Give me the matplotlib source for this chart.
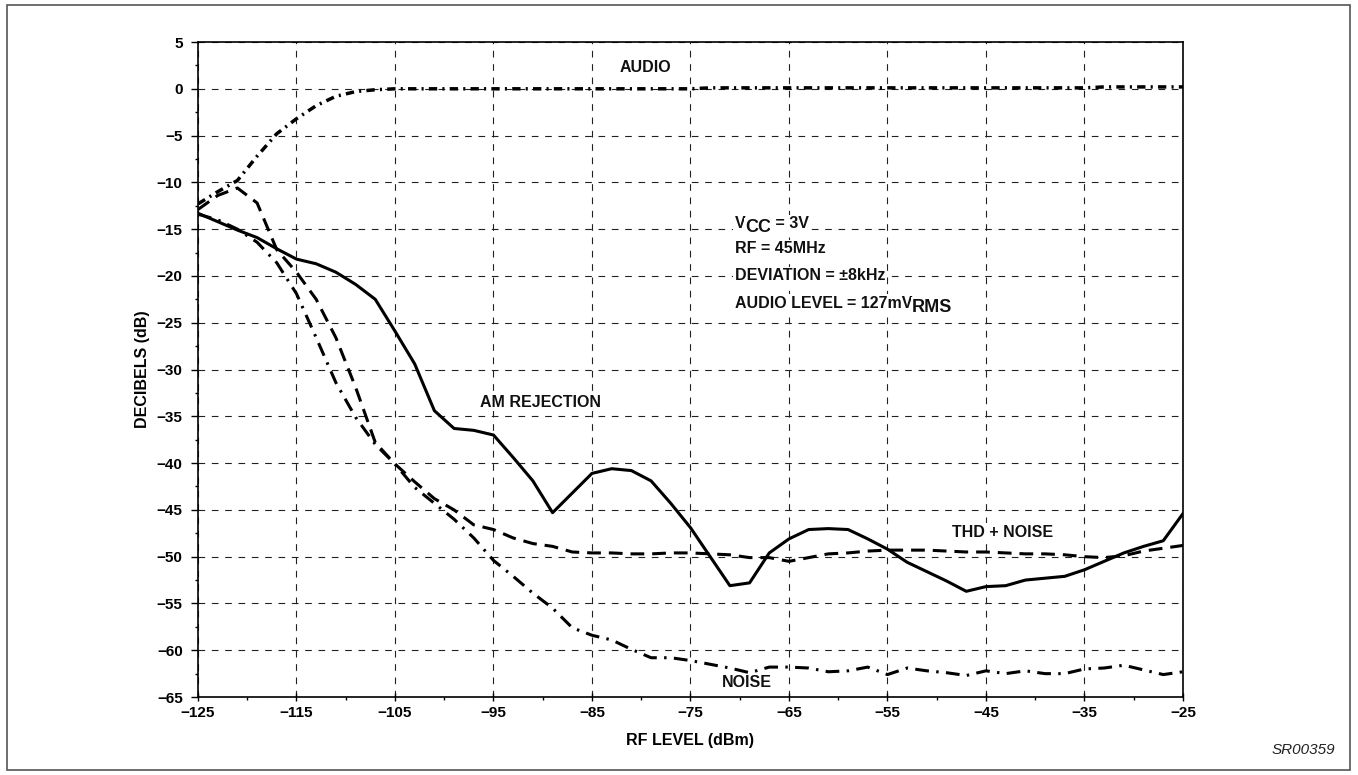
import matplotlib.pyplot as plt
from matplotlib.patches import Rectangle
from matplotlib.ticker import FixedLocator, MultipleLocator

plt.rcParams['font.family'] = ['Liberation Sans', 'DejaVu Sans']

# RF level, every 2 dBm
rf = list(range(-125, -24, 2))

audio = [-12.3, -11.0, -9.8, -7.2, -4.8, -3.2, -1.8, -0.8, -0.3, -0.1,
         0.0, 0.0, 0.0, 0.0, 0.0, 0.0, 0.0, 0.0, 0.0, 0.0,
         0.0, 0.0, 0.0, 0.0, 0.0, 0.0, 0.1, 0.1, 0.1, 0.1,
         0.1, 0.1, 0.1, 0.1, 0.1, 0.1, 0.1, 0.1, 0.1, 0.1,
         0.1, 0.1, 0.1, 0.1, 0.1, 0.1, 0.2, 0.2, 0.2, 0.2, 0.2]

am_rejection = [-13.3, -14.2, -15.1, -15.9, -17.1, -18.2, -18.7, -19.6, -20.9, -22.5,
                -25.9, -29.4, -34.4, -36.3, -36.5, -37.0, -39.4, -41.9, -45.3, -43.2,
                -41.1, -40.6, -40.8, -41.9, -44.3, -46.9, -50.0, -53.1, -52.8, -49.6,
                -48.1, -47.1, -47.0, -47.1, -48.1, -49.2, -50.6, -51.6, -52.6, -53.7,
                -53.2, -53.1, -52.5, -52.3, -52.1, -51.4, -50.5, -49.6, -48.9, -48.3, -45.4]

thd_noise = [-12.9, -11.4, -10.6, -12.2, -17.2, -19.6, -22.5, -26.6, -31.9, -37.8,
             -40.1, -42.0, -43.8, -45.0, -46.6, -47.1, -48.0, -48.6, -48.9, -49.5,
             -49.6, -49.6, -49.7, -49.7, -49.6, -49.6, -49.7, -49.8, -50.1, -50.1,
             -50.5, -50.1, -49.7, -49.6, -49.4, -49.3, -49.3, -49.3, -49.4, -49.5,
             -49.5, -49.6, -49.7, -49.7, -49.8, -50.0, -50.1, -49.9, -49.4, -49.1, -48.8]

noise = [-13.4, -14.0, -15.0, -16.4, -18.6, -21.9, -26.6, -31.4, -35.1, -38.0,
         -40.1, -42.6, -44.3, -46.0, -48.0, -50.4, -52.1, -53.9, -55.5, -57.6,
         -58.4, -58.9, -59.9, -60.8, -60.8, -61.1, -61.5, -61.9, -62.4, -61.8,
         -61.8, -61.9, -62.3, -62.2, -61.8, -62.6, -61.9, -62.2, -62.4, -62.7,
         -62.2, -62.5, -62.2, -62.5, -62.5, -62.0, -61.9, -61.6, -62.1, -62.6, -62.3]

x_ticks = [-125, -115, -105, -95, -85, -75, -65, -55, -45, -35, -25]
x_minor = [-120, -110, -100, -90, -80, -70, -60, -50, -40, -30]

fig = plt.figure(figsize=(13.58, 7.75), dpi=100)
ax = fig.add_axes([0.1458, 0.1006, 0.7253, 0.8452])

# outer frame round the whole figure
fig.patches.append(Rectangle((0.005, 0.006), 0.989, 0.988, transform=fig.transFigure,
                             fill=False, edgecolor='#555555', lw=1.2))

ax.plot(rf, audio, color='black', lw=2.5, dashes=(2.4, 1.5, 0.6, 1.5), zorder=3)
ax.plot(rf, am_rejection, color='black', lw=2.2, zorder=3)
ax.plot(rf, thd_noise, color='black', lw=2.2, dashes=(4.5, 2.6), zorder=3)
ax.plot(rf, noise, color='black', lw=2.2, dashes=(4.5, 2.4, 0.8, 2.4), zorder=3)

ax.set_xlim(-125, -25)
ax.set_ylim(-65, 5)
ax.xaxis.set_major_locator(FixedLocator(x_ticks))
ax.xaxis.set_minor_locator(FixedLocator(x_minor))
ax.yaxis.set_major_locator(MultipleLocator(5))
ax.yaxis.set_minor_locator(MultipleLocator(2.5))
ax.tick_params(which='both', color='black', width=1, labelsize=11)
ax.tick_params(axis='x', which='major', direction='inout', length=5.5, pad=4)
ax.tick_params(axis='x', which='minor', direction='out', length=2.5)
ax.tick_params(axis='y', which='major', direction='out', length=5, pad=6)
ax.tick_params(axis='y', which='minor', direction='out', length=2.5)
for lab in ax.get_xticklabels() + ax.get_yticklabels():
    lab.set_fontweight('bold')
for s in ax.spines.values():
    s.set_linewidth(1.2)

ax.grid(True, which='major', color='#222222', lw=0.8, linestyle=(0, (6, 6)))

ax.set_xlabel('RF LEVEL (dBm)', fontsize=11.5, fontweight='bold', labelpad=9)
ax.set_ylabel('DECIBELS (dB)', fontsize=11.5, fontweight='bold', labelpad=5)

bg = dict(facecolor='white', edgecolor='none', pad=1.0)
tk = dict(fontsize=11.5, fontweight='bold', color='#111111', zorder=4)
ax.text(-79.6, 2.3, 'AUDIO', ha='center', va='center', bbox=bg, **tk)
ax.text(-90.2, -33.5, 'AM REJECTION', ha='center', va='center', bbox=bg, **tk)
ax.text(-43.3, -47.4, 'THD + NOISE', ha='center', va='center', bbox=bg, **tk)
ax.text(-69.3, -63.5, 'NOISE', ha='center', va='center', bbox=bg, **tk)

t1 = ax.text(-70.5, -14.9, 'V', ha='left', va='baseline', bbox=bg, **tk)
t2 = ax.annotate('CC', xy=(1, 0), xycoords=t1, xytext=(0, -3.5), textcoords='offset points',
                 ha='left', va='bottom', fontsize=13, fontweight='bold', color='#111111',
                 bbox=bg, zorder=4)
ax.annotate(' = 3V', xy=(1, 0), xycoords=(t2, t1), ha='left', va='bottom', bbox=bg, **tk)
ax.text(-70.5, -17.1, 'RF = 45MHz', ha='left', va='center', bbox=bg, **tk)
ax.text(-70.5, -20.0, 'DEVIATION = \u00b18kHz', ha='left', va='center', bbox=bg, **tk)
t4 = ax.text(-70.5, -23.4, 'AUDIO LEVEL = 127mV', ha='left', va='baseline', bbox=bg, **tk)
ax.annotate('RMS', xy=(1, 0), xycoords=t4, xytext=(0, -3.5), textcoords='offset points',
            ha='left', va='bottom', fontsize=13, fontweight='bold', color='#111111',
            bbox=bg, zorder=4)

fig.text(0.983, 0.023, 'SR00359', ha='right', va='bottom', fontsize=11,
         style='italic', color='#222222')

fig.savefig('out.png', dpi=100)
